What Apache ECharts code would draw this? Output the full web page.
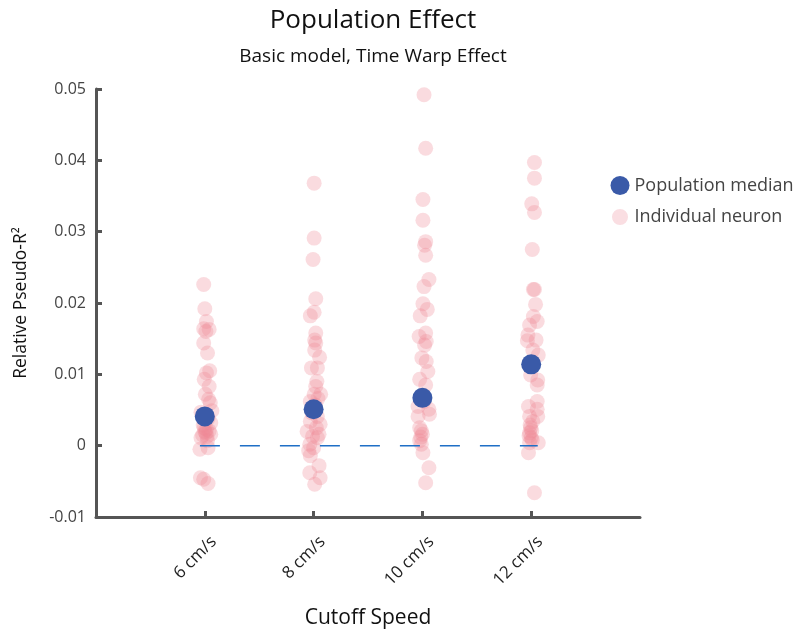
<!DOCTYPE html>
<html>
<head>
<meta charset="utf-8">
<script src="https://cdn.jsdelivr.net/npm/echarts@6/dist/echarts.min.js"></script>
<style>
  html, body { margin: 0; padding: 0; background: #fff; }
  #chart { width: 793px; height: 634px; }
</style>
</head>
<body>
<div id="chart"></div>
<script>
// cutoff speeds (cm/s)
var speeds = [6, 8, 10, 12];
var medians = [0.0041, 0.0051, 0.0067, 0.0114];

// individual neurons, value and horizontal jitter
var val6 = [0.0226, 0.0192, 0.0174, 0.0164, 0.0163, 0.0160, 0.0144, 0.0130, 0.0105, 0.0102, 0.0093, 0.0083, 0.0072, 0.0065, 0.0060, 0.0049, 0.0047, 0.0038, 0.0032, 0.0029, 0.0025, 0.0020, 0.0018, 0.0016, 0.0013, 0.0011, 0.0007, -0.0003, -0.0005, -0.0045, -0.0047, -0.0053, 0.0023, 0.0021, 0.0015];
var jit6 = [-0.02, 0.00, 0.03, -0.02, 0.08, 0.02, -0.02, 0.05, 0.09, 0.03, -0.01, 0.08, 0.01, 0.07, 0.10, 0.13, -0.07, 0.06, 0.11, -0.03, -0.01, 0.00, 0.02, 0.11, 0.04, -0.07, 0.05, 0.06, -0.09, -0.08, -0.02, 0.06, 0.03, 0.08, -0.04];

var val8 = [0.0368, 0.0291, 0.0261, 0.0206, 0.0187, 0.0182, 0.0158, 0.0148, 0.0144, 0.0134, 0.0124, 0.0109, 0.0109, 0.0090, 0.0083, 0.0072, 0.0072, 0.0062, 0.0041, 0.0034, 0.0030, 0.0020, 0.0016, 0.0011, 0.0002, -0.0007, -0.0014, -0.0028, -0.0038, -0.0045, -0.0054, 0.0057, 0.0046, 0.0025, 0.0013, 0.0066, -0.0003];
var jit8 = [0.01, 0.01, -0.01, 0.04, 0.01, -0.06, 0.04, 0.02, 0.04, 0.02, 0.11, -0.04, 0.07, 0.06, 0.04, 0.01, 0.13, -0.06, 0.07, -0.06, 0.12, -0.12, 0.10, 0.07, -0.07, -0.09, -0.06, 0.10, -0.07, 0.12, 0.02, 0.03, -0.03, 0.05, -0.02, 0.08, 0.00];

var val10 = [0.0492, 0.0417, 0.0345, 0.0316, 0.0286, 0.0281, 0.0267, 0.0233, 0.0223, 0.0199, 0.0191, 0.0182, 0.0158, 0.0153, 0.0146, 0.0141, 0.0123, 0.0118, 0.0104, 0.0085, 0.0055, 0.0051, 0.0044, 0.0041, 0.0025, 0.0021, 0.0007, 0.0002, -0.0010, -0.0031, -0.0052, 0.0016, 0.0012, 0.0062, 0.0093];
var jit10 = [0.03, 0.06, 0.01, 0.01, 0.06, 0.04, 0.06, 0.12, 0.03, 0.01, 0.09, -0.04, 0.06, -0.06, 0.07, 0.04, -0.01, 0.07, 0.10, 0.06, -0.08, 0.12, 0.13, -0.08, -0.05, -0.02, -0.05, -0.02, 0.01, 0.12, 0.06, 0.00, -0.03, 0.03, -0.05];

var val12 = [0.0397, 0.0375, 0.0339, 0.0327, 0.0275, 0.0219, 0.0219, 0.0198, 0.0181, 0.0174, 0.0169, 0.0155, 0.0148, 0.0147, 0.0134, 0.0127, 0.0099, 0.0092, 0.0085, 0.0062, 0.0055, 0.0051, 0.0041, 0.0041, 0.0034, 0.0025, 0.0018, 0.0011, 0.0004, 0.0004, -0.0010, -0.0066, 0.0029, 0.0021, 0.0014, 0.0008];
var jit12 = [0.06, 0.06, 0.01, 0.06, 0.02, 0.04, 0.06, 0.08, 0.04, 0.11, -0.03, -0.06, 0.09, -0.07, 0.03, 0.13, -0.01, 0.12, 0.11, 0.11, -0.05, 0.11, -0.03, 0.12, 0.03, -0.01, -0.03, 0.00, 0.13, -0.03, -0.05, 0.06, -0.02, 0.01, -0.04, 0.02];

var neuronVals = [val6, val8, val10, val12];
var neuronJit = [jit6, jit8, jit10, jit12];

// dashed zero reference line extent
var zeroLineX = [5.91, 12.12];

var neurons = [];
for (var i = 0; i < speeds.length; i++) {
  for (var j = 0; j < neuronVals[i].length; j++) {
    neurons.push([speeds[i] + neuronJit[i][j], neuronVals[i][j]]);
  }
}
var medianData = [];
for (var i = 0; i < speeds.length; i++) {
  medianData.push([speeds[i], medians[i]]);
}
// rotated labels sit a bit right of their tick, like the original
var labelPos = speeds.map(function (s) { return s + 0.165; });

var font = '"Open Sans", "Noto Sans", sans-serif';
var axisColor = '#555';

var myChart = echarts.init(document.getElementById('chart'));

var option = {
  backgroundColor: '#fff',
  animation: false,
  textStyle: { fontFamily: font },
  title: {
    text: 'Population Effect',
    subtext: 'Basic model, Time Warp Effect',
    left: 368,
    textAlign: 'center',
    top: 3,
    itemGap: 13,
    textStyle: { fontFamily: font, fontSize: 26, fontWeight: 'normal', color: '#111' },
    subtextStyle: { fontFamily: font, fontSize: 19, color: '#111' }
  },
  legend: {
    orient: 'vertical',
    left: 604,
    top: 171,
    itemWidth: 19,
    itemHeight: 19,
    itemGap: 11,
    textStyle: { fontFamily: font, fontSize: 18, color: '#444' },
    data: [
      { name: 'Population median', icon: 'circle' },
      { name: 'Individual neuron', icon: 'circle', itemStyle: { color: 'rgb(250,222,226)', borderColor: '#fff', borderWidth: 3 } }
    ]
  },
  grid: { left: 96, right: 153, top: 89, bottom: 115 },
  xAxis: {
    type: 'value',
    min: 4,
    max: 14,
    interval: 2,
    name: 'Cutoff Speed',
    nameLocation: 'middle',
    nameGap: 91,
    nameTextStyle: { fontFamily: font, fontSize: 21, color: '#111' },
    splitLine: { show: false },
    axisLine: { onZero: false, lineStyle: { color: axisColor, width: 3 } },
    axisTick: { inside: true, length: 6, lineStyle: { color: axisColor, width: 3 }, customValues: speeds },
    axisLabel: {
      rotate: 45,
      margin: 22,
      fontFamily: font,
      fontSize: 17,
      color: '#222',
      customValues: labelPos,
      formatter: function (v) { return Math.round(v) + ' cm/s'; }
    }
  },
  yAxis: {
    type: 'value',
    min: -0.01,
    max: 0.05,
    interval: 0.01,
    name: 'Relative Pseudo-R²',
    nameLocation: 'middle',
    nameGap: 66,
    nameTextStyle: { fontFamily: font, fontSize: 17.5, color: '#111' },
    splitLine: { show: false },
    axisLine: { lineStyle: { color: axisColor, width: 3 } },
    axisTick: { inside: true, length: 6, lineStyle: { color: axisColor, width: 3 } },
    axisLabel: {
      margin: 10,
      fontFamily: font,
      fontSize: 16,
      color: '#444',
      formatter: function (v) { return +v.toFixed(2) + ''; }
    }
  },
  series: [
    {
      name: 'Individual neuron',
      type: 'scatter',
      symbolSize: 15,
      z: 2,
      itemStyle: { color: 'rgba(238,135,148,0.3)', opacity: 1 },
      data: neurons
    },
    {
      name: 'zero',
      type: 'line',
      symbol: 'none',
      z: 3,
      silent: true,
      lineStyle: { color: '#1f6fc6', width: 1.5, type: [20, 20] },
      data: [[zeroLineX[0], 0], [zeroLineX[1], 0]]
    },
    {
      name: 'Population median',
      type: 'scatter',
      symbolSize: 20,
      z: 4,
      itemStyle: { color: '#3a5aa8', opacity: 1 },
      data: medianData
    }
  ]
};

myChart.setOption(option);
</script>
</body>
</html>
